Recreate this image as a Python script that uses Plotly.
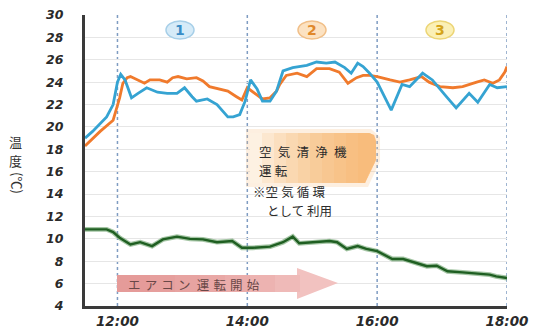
import pandas as pd
import plotly.graph_objects as go

# Indoor temperature readings (orange, blue) and outdoor-side reading (green)
orange_time = ["11:30", "11:44", "11:56", "12:02", "12:05", "12:09", "12:12", "12:19", "12:25",
               "12:30", "12:39", "12:46", "12:51", "12:56", "13:04", "13:13", "13:19", "13:25",
               "13:35", "13:42", "13:50", "13:55", "14:00", "14:07", "14:14", "14:21", "14:27",
               "14:30", "14:36", "14:46", "14:55", "15:04", "15:16", "15:25", "15:33", "15:41",
               "15:47", "15:53", "16:00", "16:12", "16:21", "16:30", "16:41", "16:48", "16:58",
               "17:10", "17:19", "17:32", "17:39", "17:47", "17:53", "17:58", "18:00"]
orange_temp = [18.3, 19.6, 20.6, 22.6, 23.9, 24.4, 24.5, 24.2, 23.9,
               24.2, 24.2, 24.0, 24.4, 24.5, 24.3, 24.4, 24.1, 23.6,
               23.4, 23.2, 22.7, 22.4, 23.5, 23.0, 22.5, 22.6, 23.2,
               23.8, 24.6, 24.8, 24.5, 25.2, 25.2, 24.9, 23.9, 24.4,
               24.6, 24.6, 24.5, 24.2, 24.0, 24.2, 24.5, 24.0, 23.6,
               23.5, 23.6, 24.0, 24.2, 23.9, 24.2, 24.9, 25.4]

blue_time = ["11:30", "11:37", "11:50", "11:56", "12:00", "12:03", "12:07", "12:13", "12:19",
             "12:27", "12:37", "12:46", "12:55", "13:02", "13:09", "13:13", "13:23", "13:32",
             "13:42", "13:47", "13:53", "13:58", "14:03", "14:09", "14:14", "14:21", "14:27",
             "14:33", "14:42", "14:55", "15:04", "15:13", "15:21", "15:30", "15:36", "15:42",
             "15:47", "15:53", "16:00", "16:13", "16:23", "16:30", "16:42", "16:51", "17:04",
             "17:13", "17:25", "17:33", "17:44", "17:51", "18:00"]
blue_temp = [19.0, 19.6, 20.9, 22.0, 24.0, 24.7, 24.2, 22.6, 23.0,
             23.5, 23.1, 23.0, 23.0, 23.5, 22.7, 22.3, 22.5, 22.0,
             20.9, 20.9, 21.1, 22.3, 24.2, 23.4, 22.3, 22.3, 23.2,
             25.0, 25.3, 25.5, 25.8, 25.7, 25.8, 25.3, 24.8, 25.7,
             25.4, 24.8, 24.0, 21.5, 23.8, 23.6, 24.8, 24.2, 22.7,
             21.7, 23.0, 22.2, 23.8, 23.5, 23.6]

green_time = ["11:30", "11:50", "11:56", "12:02", "12:12", "12:21", "12:32", "12:42", "12:55",
              "13:07", "13:19", "13:32", "13:46", "13:55", "14:05", "14:21", "14:33", "14:42",
              "14:48", "15:00", "15:16", "15:23", "15:32", "15:42", "15:50", "16:00", "16:09",
              "16:14", "16:24", "16:33", "16:46", "16:55", "17:05", "17:19", "17:32", "17:44",
              "17:50", "18:00"]
green_temp = [10.85, 10.85, 10.6, 10.1, 9.5, 9.7, 9.35, 9.95, 10.2,
              10.0, 9.95, 9.7, 9.8, 9.2, 9.2, 9.3, 9.7, 10.2,
              9.6, 9.7, 9.8, 9.7, 9.1, 9.35, 9.1, 8.9, 8.45,
              8.2, 8.2, 7.95, 7.55, 7.6, 7.1, 7.0, 6.9, 6.8,
              6.65, 6.5]

y_ticks = list(range(4, 31, 2))
x_ticks = ["12:00", "14:00", "16:00", "18:00"]
x_start, x_end = "11:30", "18:00"


def to_dt(times):
    return pd.to_datetime(["2024-01-01 " + t for t in times])


W, H = 536, 332
L, R, T, B = 85, 507, 15, 306


def px(x):
    return (x - L) / (R - L)


def py(y):
    return (B - y) / (B - T)


def path(points):
    return "M " + " L ".join(f"{px(x):.4f},{py(y):.4f}" for x, y in points) + " Z"


JP = "Noto Sans CJK JP"

fig = go.Figure()
fig.add_trace(go.Scatter(x=to_dt(green_time), y=green_temp, mode="lines",
                         line=dict(color="rgba(90,150,90,0.55)", width=4.8), hoverinfo="skip"))
fig.add_trace(go.Scatter(x=to_dt(green_time), y=green_temp, mode="lines",
                         line=dict(color="#1f5f22", width=2.4)))
fig.add_trace(go.Scatter(x=to_dt(orange_time), y=orange_temp, mode="lines",
                         line=dict(color="#f07a2c", width=2.8)))
fig.add_trace(go.Scatter(x=to_dt(blue_time), y=blue_temp, mode="lines",
                         line=dict(color="#35a3d2", width=2.8)))

shapes = []
# dotted markers for every two hours
for t in x_ticks:
    xt = to_dt([t])[0]
    shapes.append(dict(type="line", xref="x", yref="paper", x0=xt, x1=xt, y0=0, y1=1,
                       line=dict(color="#7f9cc2", width=1.5, dash="dot"), layer="below"))

# period badges
badges = [(180, "1", "#d6ebf8", "#a7cfe8", "#3a8dc6"),
          (312, "2", "#fce2c2", "#f1bf88", "#e0882c"),
          (440, "3", "#fbf0b6", "#ecd576", "#d4a41a")]
annotations = []
for cx, label, fill, edge, txt in badges:
    shapes.append(dict(type="circle", xref="paper", yref="paper",
                       x0=px(cx - 14), x1=px(cx + 14), y0=py(39), y1=py(21),
                       fillcolor=fill, line=dict(color=edge, width=1.5)))
    annotations.append(dict(x=px(cx), y=py(30), text=f"<b>{label}</b>",
                            font=dict(family="DejaVu Sans", size=14, color=txt)))

# air purifier callout box with soft orange shading toward the right
box = [(250, 133), (369, 133), (374, 135), (376, 141), (376, 160), (365, 183), (250, 183)]
glow = [(246, 129), (371, 129), (380, 137), (380, 161), (368, 187), (246, 187)]
shapes.append(dict(type="path", xref="paper", yref="paper", path=path(glow),
                   fillcolor="rgba(246,190,130,0.25)", line=dict(width=0)))
shapes.append(dict(type="path", xref="paper", yref="paper", path=path(box),
                   fillcolor="#fdf1e2", line=dict(width=0)))
for k in range(9):
    x0 = 262 + k * 12
    pts = [(x0, 133)] + [p for p in box if p[0] > x0] + [(x0, 183)]
    shapes.append(dict(type="path", xref="paper", yref="paper", path=path(pts),
                       fillcolor="rgba(244,168,88,0.13)", line=dict(width=0)))

# air conditioner arrow, fading toward the head
arrow = [(117, 275), (297, 275), (297, 268), (338, 283), (297, 299), (297, 292), (117, 292)]
shapes.append(dict(type="path", xref="paper", yref="paper", path=path(arrow),
                   fillcolor="#f2c2c0", line=dict(width=0)))
for k in range(7):
    x1 = 300 - k * 25
    pts = [(117, 275), (x1, 275), (x1, 292), (117, 292)]
    shapes.append(dict(type="path", xref="paper", yref="paper", path=path(pts),
                       fillcolor="rgba(226,128,128,0.12)", line=dict(width=0)))

note = dict(family=JP, size=12.5, color="#2b2b2b")
annotations += [
    dict(x=px(257), y=py(151), text="空\u2002気\u2002清\u2002浄\u2002機", xanchor="left", font=note),
    dict(x=px(257), y=py(170), text="運\u2005転", xanchor="left", font=note),
    dict(x=px(251), y=py(191), text="※空\u2005気\u2005循\u2005環", xanchor="left", font=note),
    dict(x=px(265), y=py(210), text="として 利用", xanchor="left", font=note),
    dict(x=px(126), y=py(284), text="エ\u2004ア\u2004コ\u2004ン\u2002運\u2004転\u2004開\u2004始",
         xanchor="left", font=dict(family=JP, size=12.5, color="#6a4848")),
    dict(x=px(15), y=py(141), text="温", font=dict(family=JP, size=13, color="#333333")),
    dict(x=px(15), y=py(160), text="度", font=dict(family=JP, size=13, color="#333333")),
    dict(x=px(17), y=py(183), text="(℃)", textangle=90,
         font=dict(family=JP, size=13, color="#333333")),
]
for a in annotations:
    a.setdefault("xref", "paper")
    a.setdefault("yref", "paper")
    a.setdefault("showarrow", False)
    a.setdefault("xanchor", "center")
    a.setdefault("yanchor", "middle")

tick_font = dict(family="DejaVu Sans", color="#2a2a2a", weight="bold", style="italic")

fig.update_layout(
    width=W, height=H,
    margin=dict(l=L, r=W - R, t=T, b=H - B, autoexpand=False),
    paper_bgcolor="white", plot_bgcolor="white",
    showlegend=False,
    shapes=shapes,
    annotations=annotations,
    xaxis=dict(type="date", range=[to_dt([x_start])[0], to_dt([x_end])[0]],
               tickvals=list(to_dt(x_ticks)), ticktext=x_ticks,
               tickfont=dict(size=13.5, **tick_font), automargin=False,
               showgrid=False, zeroline=False, showline=True,
               linecolor="#3a3a3a", linewidth=2.5, ticks="", ticklabelstandoff=1),
    yaxis=dict(range=[4, 30], tickvals=y_ticks, ticktext=[str(v) for v in y_ticks],
               tickfont=dict(size=12.5, **tick_font), automargin=False,
               showgrid=True, gridcolor="#e6e6e6", gridwidth=1, zeroline=False,
               showline=True, linecolor="#3a3a3a", linewidth=3, ticks="",
               ticklabelstandoff=16),
)

fig.write_html("out.html")
